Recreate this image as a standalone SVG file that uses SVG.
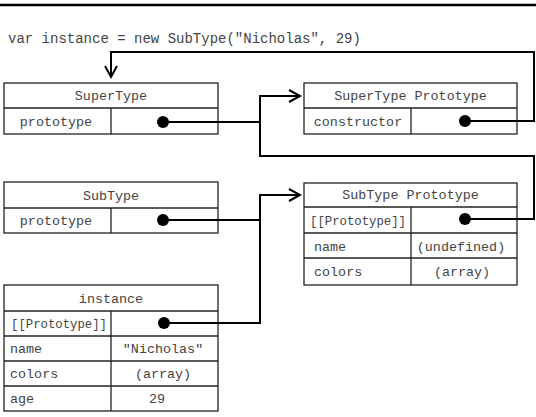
<svg xmlns="http://www.w3.org/2000/svg" width="536" height="417" viewBox="0 0 536 417">
<style>
  .box { fill: #fff; stroke: #222; stroke-width: 1.3; }
  .div { stroke: #222; stroke-width: 1.3; fill: none; }
  text { font-family: "Liberation Mono", "DejaVu Sans Mono", monospace; font-size: 13.4px; fill: #444; }
  .code { font-size: 14px; }
  .c { text-anchor: middle; }
  .conn { fill: none; stroke: #000; stroke-width: 2; stroke-linejoin: miter; }
  .dot { fill: #000; }
</style>
<defs>
  <marker id="arr" markerUnits="userSpaceOnUse" markerWidth="16" markerHeight="16" refX="12" refY="7" orient="auto">
    <path d="M1,1 L12,7 L1,13" fill="none" stroke="#000" stroke-width="2"/>
  </marker>
</defs>
<rect width="536" height="417" fill="#fff"/>
<line x1="0" y1="5" x2="536" y2="5" stroke="#000" stroke-width="2.5"/>
<text class="code" x="8" y="42.5">var instance = new SubType("Nicholas", 29)</text>

<g id="supertype">
  <rect class="box" x="4" y="83" width="214" height="51"/>
  <line class="div" x1="4" y1="108" x2="218" y2="108"/>
  <line class="div" x1="111" y1="108" x2="111" y2="134"/>
  <text class="c" x="111" y="100">SuperType</text>
  <text class="c" x="56" y="126">prototype</text>
</g>

<g id="supertype-prototype">
  <rect class="box" x="304" y="83" width="213" height="51"/>
  <line class="div" x1="304" y1="108" x2="517" y2="108"/>
  <line class="div" x1="411" y1="108" x2="411" y2="134"/>
  <text class="c" x="410.5" y="100">SuperType Prototype</text>
  <text class="c" x="358" y="126">constructor</text>
</g>

<g id="subtype">
  <rect class="box" x="4" y="182" width="214" height="51"/>
  <line class="div" x1="4" y1="208" x2="218" y2="208"/>
  <line class="div" x1="111" y1="208" x2="111" y2="233"/>
  <text class="c" x="111" y="199.5">SubType</text>
  <text class="c" x="56" y="225">prototype</text>
</g>

<g id="subtype-prototype">
  <rect class="box" x="304" y="183" width="213" height="102"/>
  <line class="div" x1="304" y1="207" x2="517" y2="207"/>
  <line class="div" x1="304" y1="233" x2="517" y2="233"/>
  <line class="div" x1="304" y1="258" x2="517" y2="258"/>
  <line class="div" x1="411" y1="207" x2="411" y2="285"/>
  <text class="c" x="410.5" y="199">SubType Prototype</text>
  <text x="310" y="224.5" textLength="96" lengthAdjust="spacingAndGlyphs">[[Prototype]]</text>
  <text x="314" y="250.5">name</text>
  <text class="c" x="461" y="250.5">(undefined)</text>
  <text x="314" y="276">colors</text>
  <text class="c" x="462" y="276">(array)</text>
</g>

<g id="instance">
  <rect class="box" x="4" y="285" width="214" height="126"/>
  <line class="div" x1="4" y1="311" x2="218" y2="311"/>
  <line class="div" x1="4" y1="336" x2="218" y2="336"/>
  <line class="div" x1="4" y1="361" x2="218" y2="361"/>
  <line class="div" x1="4" y1="386" x2="218" y2="386"/>
  <line class="div" x1="111" y1="311" x2="111" y2="411"/>
  <text class="c" x="111" y="302.5">instance</text>
  <text x="11" y="328" textLength="96" lengthAdjust="spacingAndGlyphs">[[Prototype]]</text>
  <text x="10" y="353">name</text>
  <text class="c" x="163" y="353">"Nicholas"</text>
  <text x="10" y="378">colors</text>
  <text class="c" x="163" y="378">(array)</text>
  <text x="10" y="403">age</text>
  <text class="c" x="157" y="403">29</text>
</g>

<g id="connectors">
  <polyline class="conn" points="465,121 534,121 534,52 111,52 111,77" marker-end="url(#arr)"/>
  <polyline class="conn" points="163,122 260,122"/>
  <polyline class="conn" points="465,219 534,219 534,156 260,156 260,96 300,96" marker-end="url(#arr)"/>
  <polyline class="conn" points="163,220 260,220"/>
  <polyline class="conn" points="164,323 260,323 260,195 300,195" marker-end="url(#arr)"/>
  <circle class="dot" cx="163" cy="122" r="6"/>
  <circle class="dot" cx="465" cy="121" r="6"/>
  <circle class="dot" cx="163" cy="220" r="6"/>
  <circle class="dot" cx="465" cy="219" r="6"/>
  <circle class="dot" cx="164" cy="323" r="6"/>
</g>
</svg>
